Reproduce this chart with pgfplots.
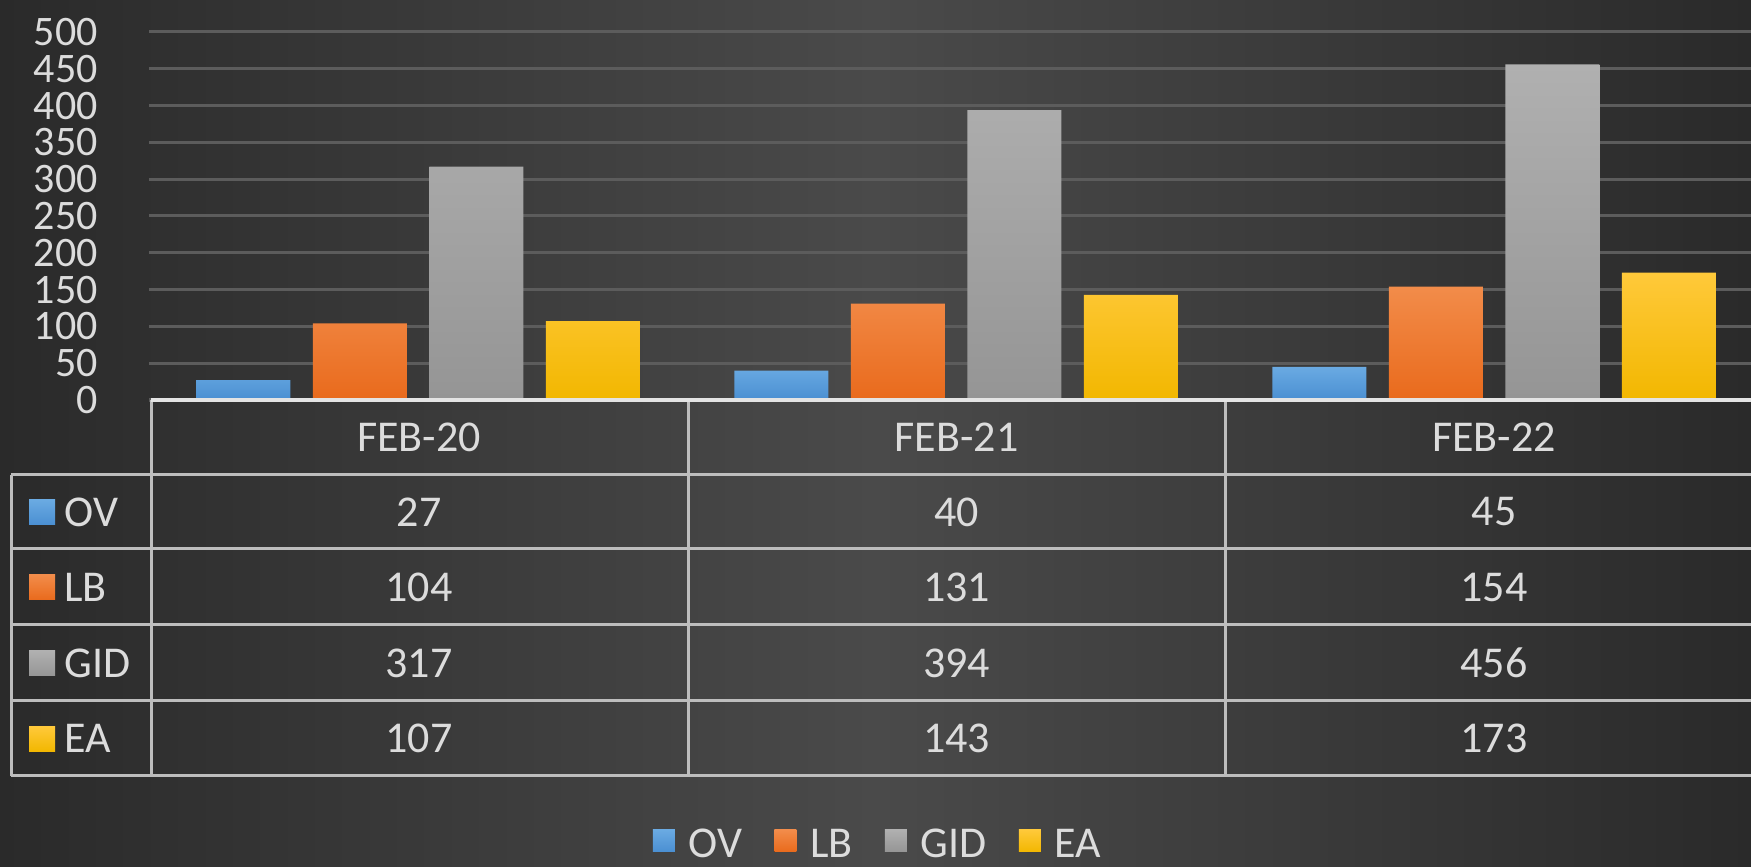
\documentclass[border=0pt]{standalone}
\usepackage{fontspec}
\setmainfont{Carlito}
\usepackage{pgfplots}
\usepackage{pgfplotstable}
\pgfplotsset{compat=1.18}
\definecolor{bgdark}{HTML}{2A2A2A}
\definecolor{bgmid}{HTML}{4A4A4A}
\definecolor{gridc}{HTML}{5C5C5C}
\definecolor{linec}{HTML}{BDBDBD}
\definecolor{basec}{HTML}{E4E4E4}
\definecolor{txt}{HTML}{DCDCDC}
\definecolor{ovT}{HTML}{6AAAE2}\definecolor{ovB}{HTML}{4A8FD2}
\definecolor{lbT}{HTML}{F28C4A}\definecolor{lbB}{HTML}{E96A1C}
\definecolor{gdT}{HTML}{B0B0B0}\definecolor{gdB}{HTML}{959595}
\definecolor{eaT}{HTML}{FFC93A}\definecolor{eaB}{HTML}{F2B700}
\pgfplotstableread{
x OV LB GID EA
0 27 104 317 107
1 40 131 394 143
2 45 154 456 173
}\datatable
\newcommand\bigfont{\fontsize{22}{24}\selectfont}
\begin{document}
\begin{tikzpicture}[x=0.5pt,y=0.5pt]
\useasboundingbox (0,0) rectangle (1751,867);
\shade[left color=bgdark, right color=bgdark, middle color=bgmid] (0,0) rectangle (1751,867);
\begin{axis}[
  at={(74.5pt,233.5pt)}, anchor=south west,
  scale only axis, width=801pt, height=184pt,
  xmin=-0.5, xmax=2.4777, ymin=0, ymax=500,
  ybar=11.25pt, bar width=47pt,
  xtick=\empty, ytick={0,50,...,500},
  ymajorgrids, grid style={gridc, line width=1.5pt},
  axis line style={draw=none}, major tick length=0pt,
  /pgf/number format/assume math mode=true,
  yticklabel style={font=\fontsize{21}{21}\selectfont, text=txt, anchor=east, inner sep=0pt, xshift=-25.5pt},
  legend columns=-1,
  legend style={at={(0.4557,-1.209)}, anchor=center, draw=none, fill=none,
    text=txt, font=\bigfont,
    /tikz/every odd column/.append style={column sep=5pt},
    /tikz/every even column/.append style={column sep=14pt}},
  sq/.style={legend image code/.code={\fill[##1,draw=none] (0pt,-3.5pt) rectangle (11pt,7.5pt);}},
]
\addplot[draw=none, top color=ovT, bottom color=ovB, sq] table[x=x,y=OV] {\datatable};
\addlegendentry{OV}
\addplot[draw=none, top color=lbT, bottom color=lbB, sq] table[x=x,y=LB] {\datatable};
\addlegendentry{LB}
\addplot[draw=none, top color=gdT, bottom color=gdB, sq] table[x=x,y=GID] {\datatable};
\addlegendentry{GID}
\addplot[draw=none, top color=eaT, bottom color=eaB, sq] table[x=x,y=EA] {\datatable};
\addlegendentry{EA}
\end{axis}
% data table below the chart
\begin{scope}[line width=1.5pt, draw=linec]
\foreach \yy in {392,318,242,166,91} \draw[linec] (11,\yy) -- (1751,\yy);
\foreach \xx in {151,688,1225} \draw[linec] (\xx,467) -- (\xx,91);
\draw[linec] (11,392) -- (11,91);
\end{scope}
\draw[basec, line width=2pt] (151,467) -- (1751,467);
\foreach \lab [count=\i from 0] in {FEB-20,FEB-21,FEB-22}{
  \pgfmathsetmacro\cx{419+537.5*\i}
  \node[text=txt, font=\bigfont, inner sep=0pt] at (\cx,429.5) {\lab};
}
\foreach \c/\ty/\tb/\yc in {OV/ovT/ovB/355, LB/lbT/lbB/280, GID/gdT/gdB/204, EA/eaT/eaB/128.5}{
  \shade[top color=\ty, bottom color=\tb] (29,\yc-13) rectangle (55,\yc+12);
  \node[text=txt, font=\bigfont, inner sep=0pt, anchor=west] at (64,\yc) {\c};
  \foreach \r in {0,1,2}{
    \pgfmathsetmacro\cx{419+537.5*\r}
    \node[text=txt, font=\bigfont, inner sep=0pt] at (\cx,\yc) {\pgfplotstablegetelem{\r}{\c}\of\datatable\pgfplotsretval};
  }
}
\end{tikzpicture}
\end{document}
